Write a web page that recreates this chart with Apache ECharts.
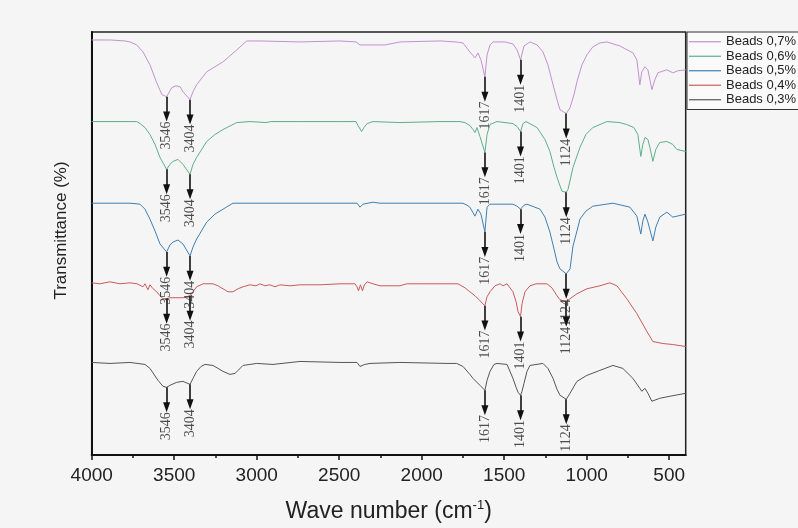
<!DOCTYPE html>
<html>
<head>
<meta charset="utf-8">
<script src="https://cdn.jsdelivr.net/npm/echarts@6/dist/echarts.min.js"></script>
<style>
  html, body { margin: 0; padding: 0; background: #f5f5f5; }
  #chart { width: 798px; height: 528px; }
</style>
</head>
<body>
<div id="chart"></div>
<script>
// ---- Data (wavenumber in cm-1, transmittance in arbitrary stacked units) ----
const seriesNames = ['Beads 0,7%', 'Beads 0,6%', 'Beads 0,5%', 'Beads 0,4%', 'Beads 0,3%'];
const seriesColors = ['#c490cf', '#5caf86', '#3f7fb3', '#c85c5c', '#555555'];
const peakWaves = [3546, 3404, 1617, 1401, 1124];
const majorTicks = [4000, 3500, 3000, 2500, 2000, 1500, 1000, 500];
const minorTicks = [3750, 3250, 2750, 2250, 1750, 1250, 750];

const wave07 = [4000,3889,3798,3768,3727,3689,3647,3606,3574,3546,3515,3489,3464,3447,3404,3386,3364,3303,3204,3121,3061,2980,2738,2495,2398,2374,2222,2132,1889,1792,1750,1708,1677,1659,1641,1617,1604,1586,1568,1495,1447,1422,1401,1380,1344,1301,1265,1235,1204,1180,1162,1124,1101,1077,1059,1029,999,963,920,878,799,720,696,678,666,647,629,605,587,569,514,478,448,400];
const trans07 = [417,417,416,415,412,405,392,374,362,360,369,371,370,365,357,365,372,385,395,407,416,416,415,416,415,412,412,415,416,415,414,405,399,404,397,380,402,412,415,415,413,407,397,411,415,412,405,392,372,357,347,343,349,362,375,392,402,410,414,415,411,404,397,372,385,390,387,367,377,384,387,384,386,387];

const wave06 = [4000,3768,3727,3707,3677,3647,3616,3586,3546,3526,3507,3477,3447,3404,3386,3364,3303,3253,3204,3121,3041,2944,2932,2913,2738,2495,2398,2386,2364,2350,2331,2295,2132,1889,1768,1738,1708,1689,1677,1665,1647,1617,1604,1586,1544,1447,1422,1401,1386,1368,1301,1253,1223,1198,1180,1150,1124,1113,1083,1041,1005,963,878,799,757,714,690,672,660,647,629,617,599,581,557,514,478,454,400];
const trans06 = [335,335,335,333,329,322,312,299,287,292,295,297,292,282,292,299,315,322,327,334,335,334,332,335,335,335,335,331,325,329,333,335,334,335,335,334,331,327,324,329,320,304,322,332,335,333,330,325,333,335,329,317,305,289,279,265,264,267,289,309,322,329,335,334,332,329,322,300,312,319,317,309,295,307,314,315,312,307,305];

const wave05 = [4000,3768,3707,3677,3647,3616,3586,3546,3526,3507,3477,3447,3404,3386,3364,3303,3253,3204,3144,2980,2738,2495,2392,2374,2356,2295,2253,1889,1750,1726,1708,1677,1659,1641,1617,1604,1586,1447,1422,1401,1380,1362,1283,1253,1223,1198,1180,1162,1124,1101,1083,1059,1041,1005,963,841,738,696,672,660,647,629,599,581,557,514,478,400];
const trans05 = [253,253,252,247,237,225,212,204,211,214,216,212,200,209,217,234,242,247,253,253,253,253,253,249,252,254,253,253,253,251,249,240,247,242,224,249,252,252,250,247,251,252,247,239,224,207,194,187,182,187,210,225,237,245,250,253,249,240,222,235,242,234,215,229,239,244,239,242];

const wave04 = [4000,3950,3889,3828,3768,3725,3689,3677,3659,3647,3628,3606,3586,3568,3546,3526,3489,3447,3404,3386,3364,3325,3265,3235,3204,3174,3144,3113,3083,3041,3004,2980,2950,2920,2889,2859,2798,2738,2616,2495,2404,2392,2383,2371,2359,2347,2331,2295,2253,2192,2132,2091,2010,1847,1780,1738,1708,1677,1647,1617,1604,1586,1556,1525,1507,1483,1447,1428,1416,1401,1392,1374,1344,1307,1241,1211,1180,1162,1124,1101,1059,999,920,860,817,757,696,635,599,538,478,400];
const trans04 = [173,172,174,172,173,172,169,172,166,171,167,164,160,157,157,158,158,158,160,164,169,172,172,170,167,164,164,167,169,171,170,172,170,171,169,171,170,171,171,172,172,169,165,171,165,171,174,172,170,170,170,172,172,172,172,168,164,160,155,150,159,164,170,172,170,172,164,154,144,139,152,164,170,172,172,168,160,156,154,157,162,167,170,173,170,157,142,124,114,112,111,109];

const wave03 = [4000,3889,3768,3677,3647,3598,3568,3546,3526,3485,3447,3404,3386,3364,3337,3313,3265,3204,3162,3131,3113,3083,3041,3000,2901,2738,2495,2392,2374,2362,2344,2313,2132,1847,1788,1750,1708,1689,1647,1617,1604,1586,1562,1544,1483,1447,1428,1416,1401,1392,1380,1362,1344,1265,1235,1204,1180,1162,1124,1101,1077,1059,999,920,841,781,720,678,666,647,629,605,557,496,400];
const trans03 = [93,92,93,91,87,75,69,68,70,73,74,71,77,84,89,91,90,84,81,82,85,90,91,92,91,94,93,93,89,87,91,92,93,92,92,89,81,77,70,65,75,84,91,92,91,77,68,63,60,64,72,84,90,92,87,77,66,60,56,62,69,74,80,85,90,87,77,67,64,67,62,54,57,59,62];

const waveArrays = [wave07, wave06, wave05, wave04, wave03];
const transArrays = [trans07, trans06, trans05, trans04, trans03];

// ---- Build ----
const ARROW_LEN = 20;
const LABEL_OFFSET = 39;

function valueAt(waves, trans, w) {
  const i = waves.indexOf(w);
  return trans[i];
}

const series = [];
const labelPoints = [];
seriesNames.forEach((name, k) => {
  const waves = waveArrays[k];
  const trans = transArrays[k];
  const arrows = peakWaves.map(w => {
    const v = valueAt(waves, trans, w);
    labelPoints.push([w, v - LABEL_OFFSET, String(w)]);
    return [{ coord: [w, v] }, { coord: [w, v - ARROW_LEN] }];
  });
  series.push({
    name: name,
    type: 'line',
    data: waves.map((w, i) => [w, trans[i]]),
    symbol: 'none',
    showSymbol: false,
    color: seriesColors[k],
    lineStyle: { width: 1, color: seriesColors[k] },
    animation: false,
    z: 2,
    markLine: {
      silent: true,
      animation: false,
      symbol: ['none', 'triangle'],
      symbolSize: [7, 10],
      label: { show: false },
      lineStyle: { type: 'solid', color: '#111', width: 1.6 },
      emphasis: { disabled: true },
      data: arrows,
      z: 5
    }
  });
});

series.push({
  name: 'peaks',
  type: 'scatter',
  data: labelPoints,
  symbolSize: 0,
  silent: true,
  animation: false,
  z: 6,
  label: {
    show: true,
    position: 'inside',
    rotate: 90,
    formatter: p => p.value[2],
    fontFamily: 'Liberation Serif',
    fontSize: 14,
    color: '#222',
    align: 'center',
    verticalAlign: 'middle'
  }
});

const chart = echarts.init(document.getElementById('chart'), null, { renderer: 'canvas' });
chart.setOption({
  backgroundColor: '#f5f5f5',
  animation: false,
  grid: {
    left: 91.7, right: 112.3, top: 32, bottom: 71.3,
    show: true, borderColor: '#222', borderWidth: 1.5, backgroundColor: 'transparent'
  },
  legend: {
    data: seriesNames,
    orient: 'vertical',
    left: 687,
    top: 32,
    icon: 'rect',
    itemWidth: 32,
    itemHeight: 1.2,
    itemGap: 1,
    padding: [3, 20, 3, 2],
    borderColor: '#333',
    borderWidth: 1,
    borderRadius: 0,
    backgroundColor: '#fafafa',
    textStyle: { fontFamily: 'Liberation Sans', fontSize: 13, color: '#222', lineHeight: 13.5 }
  },
  xAxis: [{
    type: 'value',
    min: 400,
    max: 4000,
    inverse: true,
    name: 'Wave number (cm{sup|-1})',
    nameLocation: 'middle',
    nameGap: 44,
    nameTextStyle: {
      fontFamily: 'Liberation Sans', fontSize: 23, color: '#222',
      rich: { sup: { fontFamily: 'Liberation Sans', fontSize: 13, color: '#222', verticalAlign: 'top', padding: [0, 0, 12, 0] } }
    },
    axisLine: { show: true, lineStyle: { color: '#111', width: 2 } },
    axisTick: { show: true, customValues: majorTicks, length: 5, lineStyle: { color: '#111', width: 1.5 } },
    axisLabel: {
      show: true, customValues: majorTicks, formatter: v => String(v),
      fontFamily: 'Liberation Sans', fontSize: 19, color: '#222', margin: 11
    },
    splitLine: { show: false }
  }, {
    type: 'value',
    min: 400,
    max: 4000,
    inverse: true,
    position: 'bottom',
    axisLine: { show: false },
    axisTick: { show: true, customValues: minorTicks, length: 3, lineStyle: { color: '#111', width: 1.5 } },
    axisLabel: { show: false },
    splitLine: { show: false }
  }],
  yAxis: {
    type: 'value',
    min: 0,
    max: 425,
    name: 'Transmittance (%)',
    nameLocation: 'middle',
    nameGap: 22,
    nameTextStyle: { fontFamily: 'Liberation Sans', fontSize: 17, color: '#222', padding: [0, 0, 0, 26] },
    axisLine: { show: true, lineStyle: { color: '#111', width: 2 } },
    axisTick: { show: false },
    axisLabel: { show: false },
    splitLine: { show: false }
  },
  series: series
});
</script>
</body>
</html>
